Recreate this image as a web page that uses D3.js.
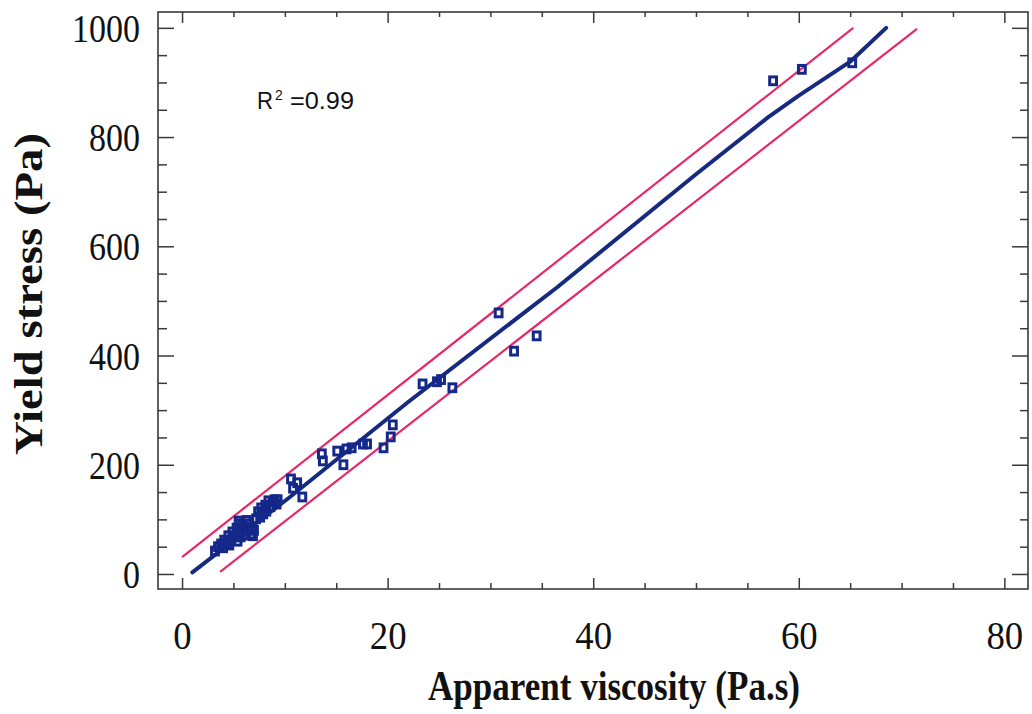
<!DOCTYPE html>
<html>
<head>
<meta charset="utf-8">
<script src="https://cdn.jsdelivr.net/npm/d3@7/dist/d3.min.js"></script>
<style>
  html, body { margin: 0; padding: 0; background: #ffffff; }
  svg { display: block; }
</style>
</head>
<body>
<svg id="chart" width="1032" height="714"></svg>
<script>
// ---------------- data ----------------
const viscosity = [
  3.2, 3.5, 3.8, 4.0, 4.1, 4.4, 4.5, 4.8, 4.9, 5.1, 5.3, 5.4, 5.6, 5.7, 5.7,
  5.9, 6.1, 6.2, 6.4, 6.5, 6.7, 6.8, 7.2, 7.4, 7.6, 7.7, 7.9, 8.1, 8.2, 8.4,
  8.6, 8.8, 9.0, 9.2, 9.3, 5.5, 6.9, 4.6, 6.3, 7.0,
  10.6, 11.2, 10.8, 11.7,
  13.6, 13.7, 15.1, 15.7, 16.0, 16.5, 17.6, 18.0, 19.6, 20.3, 20.5,
  23.4, 24.8, 25.2, 26.3, 30.8, 32.3, 34.5,
  57.5, 60.3, 65.2
];
const yieldStress = [
  42, 50, 55, 48, 62, 57, 70, 62, 77, 68, 84, 60, 92, 77, 68,
  90, 81, 71, 92, 81, 73, 86, 101, 114, 104, 121, 110, 126, 115, 134,
  123, 132, 136, 128, 136, 97, 70, 53, 98, 80,
  174, 167, 157, 141,
  220, 207, 225, 200, 229, 231, 238, 238, 231, 251, 273,
  348, 352, 356, 341, 478, 408, 436,
  903, 924, 936
];
const fitX = [1.0, 10.5, 22, 36.5, 50, 57, 60, 65, 68.5];
const fitY = [3, 141, 315, 525, 732, 836, 876, 938, 1000];
const upperX = [0, 65.3];
const upperY = [31, 1000];
const lowerX = [3.7, 71.5];
const lowerY = [4, 998];
const xTicks = [0, 20, 40, 60, 80];
const yTicks = [0, 200, 400, 600, 800, 1000];
const xMinor = d3.range(0, 81, 5);
const yMinor = d3.range(0, 1001, 50);
const r2Label = "=0.99";

// ---------------- layout ----------------
const L = 158, R = 1028, T = 12, B = 589;
const svg = d3.select("#chart");
const x = d3.scaleLinear().domain([-2.34, 82.3]).range([L, R]);
const y = d3.scaleLinear().domain([-27.5, 1029]).range([B, T]);

const frameColor = "#3a3a3a";
const serif = "'Liberation Serif','Times New Roman',Times,serif";

// frame
svg.append("rect")
  .attr("x", L).attr("y", T).attr("width", R - L).attr("height", B - T)
  .attr("fill", "none").attr("stroke", frameColor).attr("stroke-width", 1.6);

function tickAxis(axisFn, scale, values, size, translate) {
  const g = svg.append("g").attr("transform", translate)
    .call(axisFn(scale).tickValues(values).tickSizeInner(size).tickSizeOuter(0).tickFormat(""));
  g.select(".domain").remove();
  g.selectAll(".tick line").attr("stroke", frameColor).attr("stroke-width", 1.5);
  return g;
}
// inward ticks on all four sides
tickAxis(d3.axisBottom, x, xMinor.filter(v => v % 20 !== 0), -6, `translate(0,${B})`);
tickAxis(d3.axisBottom, x, xTicks, -11, `translate(0,${B})`);
tickAxis(d3.axisTop, x, xMinor.filter(v => v % 20 !== 0), -5, `translate(0,${T})`);
tickAxis(d3.axisTop, x, xTicks, -11, `translate(0,${T})`);
tickAxis(d3.axisLeft, y, yMinor.filter(v => v % 200 !== 0), -9, `translate(${L},0)`);
tickAxis(d3.axisLeft, y, yTicks, -16, `translate(${L},0)`);
tickAxis(d3.axisRight, y, yMinor.filter(v => v % 200 !== 0), -8, `translate(${R},0)`);
tickAxis(d3.axisRight, y, yTicks, -16, `translate(${R},0)`);

// tick labels
const xl = svg.append("g").attr("transform", `translate(0,${B})`)
  .call(d3.axisBottom(x).tickValues(xTicks).tickSize(0).tickFormat(d3.format("d")));
xl.select(".domain").remove();
xl.selectAll("text")
  .attr("y", 60).attr("dy", 0)
  .attr("transform", "scale(0.92,1)")
  .attr("font-family", serif).attr("font-size", 40).attr("fill", "#111");

const yl = svg.append("g").attr("transform", `translate(${L},0)`)
  .call(d3.axisLeft(y).tickValues(yTicks).tickSize(0).tickFormat(d3.format("d")));
yl.select(".domain").remove();
yl.selectAll("text")
  .attr("x", -18 / 0.85).attr("dy", "0.34em")
  .attr("transform", "scale(0.85,1)")
  .attr("font-family", serif).attr("font-size", 40).attr("fill", "#111");

// axis titles
svg.append("text")
  .attr("x", 614).attr("y", 700)
  .attr("text-anchor", "middle")
  .attr("font-family", serif).attr("font-weight", "bold").attr("font-size", 42)
  .attr("textLength", 372).attr("lengthAdjust", "spacingAndGlyphs")
  .attr("fill", "#111")
  .text("Apparent viscosity (Pa.s)");

svg.append("text")
  .attr("transform", "translate(42,294) rotate(-90)")
  .attr("text-anchor", "middle")
  .attr("font-family", serif).attr("font-weight", "bold").attr("font-size", 40)
  .attr("textLength", 322).attr("lengthAdjust", "spacingAndGlyphs")
  .attr("fill", "#111")
  .text("Yield stress (Pa)");

// R^2 label
const sans = "'Liberation Sans',Arial,Helvetica,sans-serif";
svg.append("text").attr("x", 257).attr("y", 109)
  .attr("font-family", sans).attr("font-size", 23).attr("fill", "#111")
  .attr("textLength", 16).attr("lengthAdjust", "spacingAndGlyphs").text("R");
svg.append("text").attr("x", 275).attr("y", 100)
  .attr("font-family", sans).attr("font-size", 14).attr("fill", "#111").text("2");
svg.append("text").attr("x", 290).attr("y", 109)
  .attr("font-family", sans).attr("font-size", 23).attr("fill", "#111")
  .attr("textLength", 64).attr("lengthAdjust", "spacingAndGlyphs").text(r2Label);

// prediction bands
const line = d3.line().x(d => x(d[0])).y(d => y(d[1]));
const pink = "#e6286a";
svg.append("path").datum(d3.zip(upperX, upperY)).attr("d", line)
  .attr("fill", "none").attr("stroke", pink).attr("stroke-width", 2.2);
svg.append("path").datum(d3.zip(lowerX, lowerY)).attr("d", line)
  .attr("fill", "none").attr("stroke", pink).attr("stroke-width", 2.2);

// fit line
svg.append("path").datum(d3.zip(fitX, fitY))
  .attr("d", line)
  .attr("fill", "none").attr("stroke", "#162a80").attr("stroke-width", 4)
  .attr("stroke-linecap", "round").attr("stroke-linejoin", "round");

// points
const pts = d3.zip(viscosity, yieldStress);
const w = 6.8, h = 7.8;
svg.append("g").selectAll("rect").data(pts).join("rect")
  .attr("x", d => x(d[0]) - w / 2).attr("y", d => y(d[1]) - h / 2)
  .attr("width", w).attr("height", h)
  .attr("fill", "none").attr("stroke", "#14288a").attr("stroke-width", 3);
</script>
</body>
</html>
